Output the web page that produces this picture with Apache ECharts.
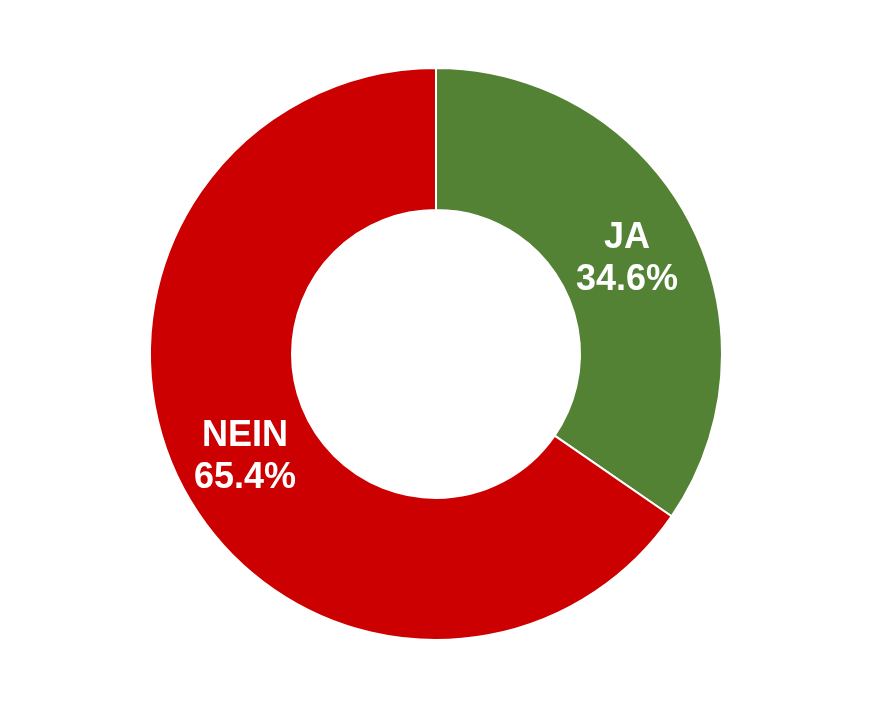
<!DOCTYPE html>
<html>
<head>
<meta charset="utf-8">
<script src="https://cdn.jsdelivr.net/npm/echarts@6/dist/echarts.min.js"></script>
<style>html,body{margin:0;padding:0;background:#fff}#c{width:873px;height:709px}</style>
</head>
<body>
<div id="c"></div>
<script>
const categories = ['JA', 'NEIN'];
const values = [34.6, 65.4];
const colors = ['#548235', '#CC0000'];
const labelOffsets = [[-2, 6], [2, 2]];

const chart = echarts.init(document.getElementById('c'));
chart.setOption({
  animation: false,
  series: [{
    type: 'pie',
    center: [436, 354],
    radius: [144, 286],
    startAngle: 90,
    clockwise: true,
    data: categories.map((n, i) => ({
      name: n, value: values[i],
      itemStyle: { color: colors[i] },
      label: { offset: labelOffsets[i] }
    })),
    itemStyle: { borderColor: '#ffffff', borderWidth: 2 },
    label: {
      show: true,
      position: 'inside',
      formatter: p => p.name + '\n' + p.value.toFixed(1) + '%',
      color: '#ffffff',
      fontFamily: 'Liberation Sans, Arial, sans-serif',
      fontWeight: 'bold',
      fontSize: 36,
      lineHeight: 42
    },
    labelLine: { show: false },
    emphasis: { disabled: true }
  }]
});
</script>
</body>
</html>
